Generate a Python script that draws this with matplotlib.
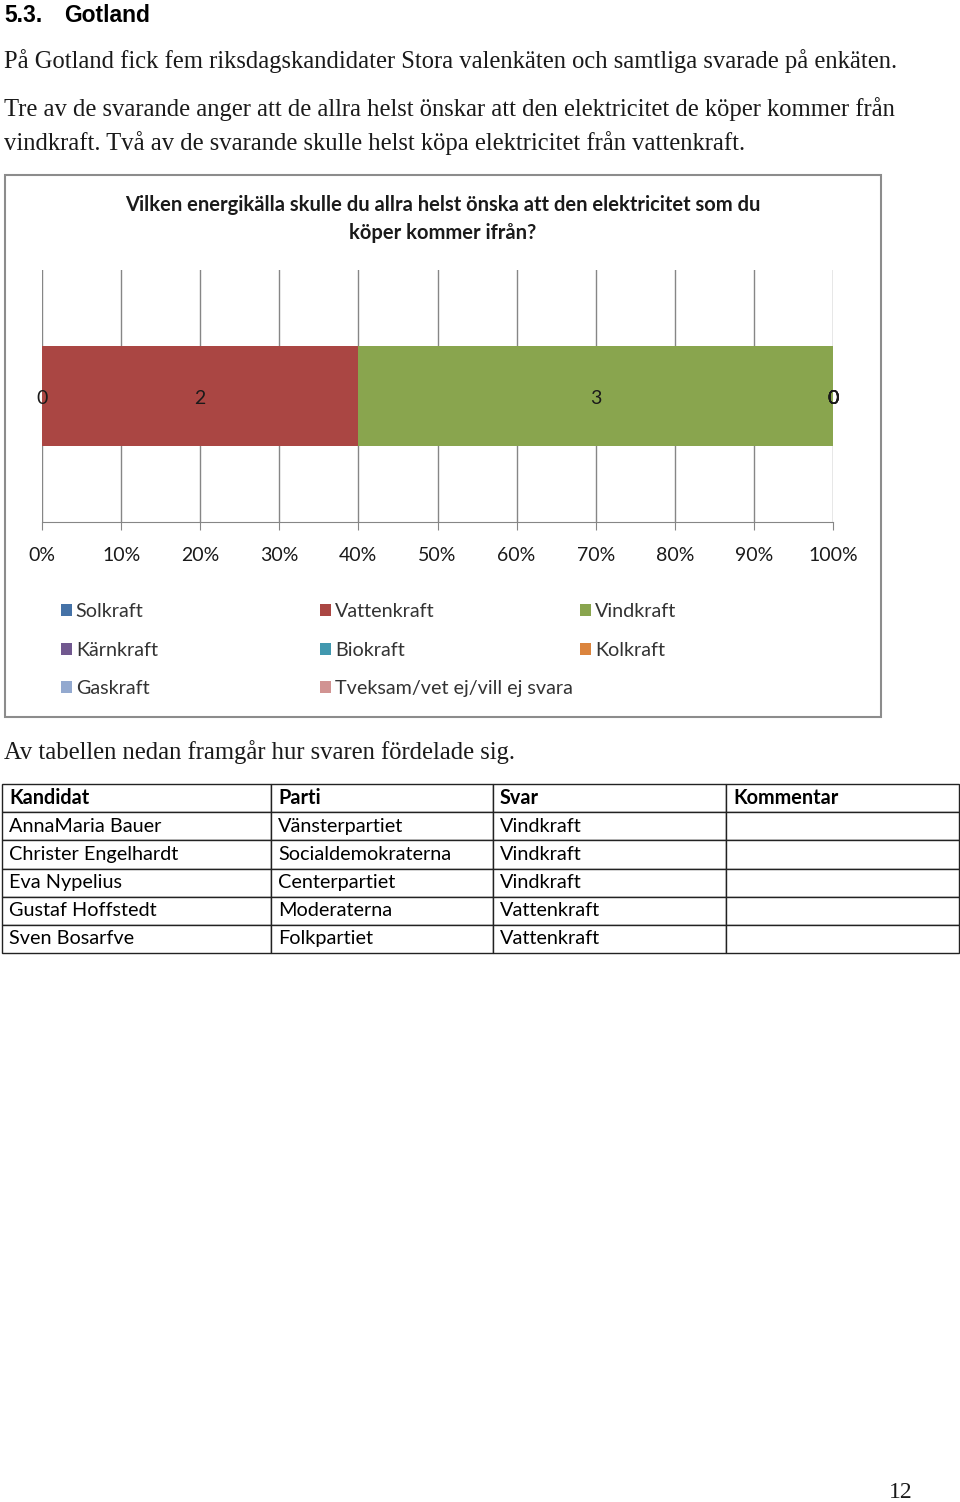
import matplotlib
matplotlib.use("Agg")
import matplotlib.pyplot as plt
from matplotlib.patches import Rectangle

# ---------------- data ----------------
series = ["Solkraft", "Vattenkraft", "Vindkraft", "Kärnkraft", "Biokraft",
          "Kolkraft", "Gaskraft", "Tveksam/vet ej/vill ej svara"]
counts = [0, 2, 3, 0, 0, 0, 0, 0]
colors = ["#4572A7", "#AA4643", "#89A54E", "#71588F", "#4198AF",
          "#DB843D", "#93A9CF", "#D19392"]
xticks = [0, 10, 20, 30, 40, 50, 60, 70, 80, 90, 100]
xtick_labels = [f"{t}%" for t in xticks]

title = "Vilken energikälla skulle du allra helst önska att den elektricitet som du\nköper kommer ifrån?"

table_header = ["Kandidat", "Parti", "Svar", "Kommentar"]
kandidater = ["AnnaMaria Bauer", "Christer Engelhardt", "Eva Nypelius",
              "Gustaf Hoffstedt", "Sven Bosarfve"]
partier = ["Vänsterpartiet", "Socialdemokraterna", "Centerpartiet",
           "Moderaterna", "Folkpartiet"]
svar = ["Vindkraft", "Vindkraft", "Vindkraft", "Vattenkraft", "Vattenkraft"]
kommentar = ["", "", "", "", ""]

# ---------------- layout helpers ----------------
W, H = 960, 1502
def fx(px): return px / W
def fy(px): return 1 - px / H

SANS = ["Lato", "DejaVu Sans"]
SERIF = ["Liberation Serif", "DejaVu Serif"]
TXT = "#1a1a1a"

fig = plt.figure(figsize=(W / 100, H / 100), dpi=100)
fig.patch.set_facecolor("white")

# heading and body text
fig.text(fx(4), fy(15), "5.3.", family=["Liberation Sans"], weight="bold",
         fontsize=16.5, va="center", ha="left", color="black")
fig.text(fx(64), fy(15), "Gotland", family=["Liberation Sans"], weight="bold",
         fontsize=16.5, va="center", ha="left", color="black")
body = [
    (61, "På Gotland fick fem riksdagskandidater Stora valenkäten och samtliga svarade på enkäten."),
    (109, "Tre av de svarande anger att de allra helst önskar att den elektricitet de köper kommer från"),
    (143, "vindkraft. Två av de svarande skulle helst köpa elektricitet från vattenkraft."),
    (752, "Av tabellen nedan framgår hur svaren fördelade sig."),
]
for y, s in body:
    fig.text(fx(4), fy(y), s, family=SERIF, fontsize=17.7, va="center",
             ha="left", color=TXT)
fig.text(fx(913), fy(1493), "12", family=SERIF, fontsize=17, va="center",
         ha="right", color=TXT)

# chart frame
fig.add_artist(Rectangle((fx(5), fy(717)), fx(876), (717 - 175) / H,
                         transform=fig.transFigure, fill=False,
                         edgecolor="#8c8c8c", lw=1.5))
fig.text(fx(443), fy(219), title, family=SANS, weight="bold", fontsize=14.5,
         ha="center", va="center", color="#1a1a1a", linespacing=1.45)

# chart axes
ax = fig.add_axes([fx(42), fy(522), fx(791), (522 - 270) / H])
total = sum(counts)
left = 0.0
handles = []
for name, c, col in zip(series, counts, colors):
    w = c / total * 100
    b = ax.barh(0, w, left=left, height=0.397, color=col, label=name, zorder=2)
    handles.append(b)
    ax.text(left + w / 2, -0.01, str(c), ha="center", va="center", fontsize=14,
            family=SANS, color="#1a1a1a", zorder=3, clip_on=False)
    left += w

ax.set_xlim(0, 100)
ax.set_ylim(-0.5, 0.5)
ax.set_yticks([])
ax.set_xticks(xticks)
ax.set_xticklabels(xtick_labels, family=SANS, fontsize=14, color="#1a1a1a")
ax.xaxis.grid(True, color="#868686", lw=1, zorder=0)
ax.set_axisbelow(True)
for s in ["top", "right", "left"]:
    ax.spines[s].set_visible(False)
ax.spines["bottom"].set_color("#868686")
ax.tick_params(axis="x", direction="out", length=6, color="#868686", pad=12)

# legend (row-wise layout, 3 columns)
cols_idx = [[0, 3, 6], [1, 4, 7], [2, 5]]
col_x = [61, 320, 580]
for xi, idx in zip(col_x, cols_idx):
    fig.legend([handles[i] for i in idx], [series[i] for i in idx],
               loc="upper left", bbox_to_anchor=(fx(xi), fy(603)),
               frameon=False, prop={"family": SANS, "size": 14.2},
               handlelength=0.55, handleheight=0.55, handletextpad=0.2,
               labelspacing=1.1, borderpad=0, borderaxespad=0,
               labelcolor="#333333")

# table
tab_ax = fig.add_axes([fx(2), fy(953), fx(957), (953 - 784) / H])
tab_ax.axis("off")
rows = [list(r) for r in zip(kandidater, partier, svar, kommentar)]
col_w = [269, 222, 233, 233]
tot_w = sum(col_w)
tbl = tab_ax.table(cellText=[table_header] + rows,
                   colWidths=[w / tot_w for w in col_w],
                   cellLoc="left", bbox=[0, 0, 1, 1])
tbl.auto_set_font_size(False)
for (r, c), cell in tbl.get_celld().items():
    cell.set_edgecolor("#222222")
    cell.set_linewidth(1.0)
    cell.PAD = 7 / col_w[c]
    cell.get_text().set_fontsize(14.3)
    cell.get_text().set_family(SANS)
    cell.get_text().set_color("black")
    if r == 0:
        cell.get_text().set_weight("bold")

fig.savefig("out.png", dpi=100, facecolor="white")
